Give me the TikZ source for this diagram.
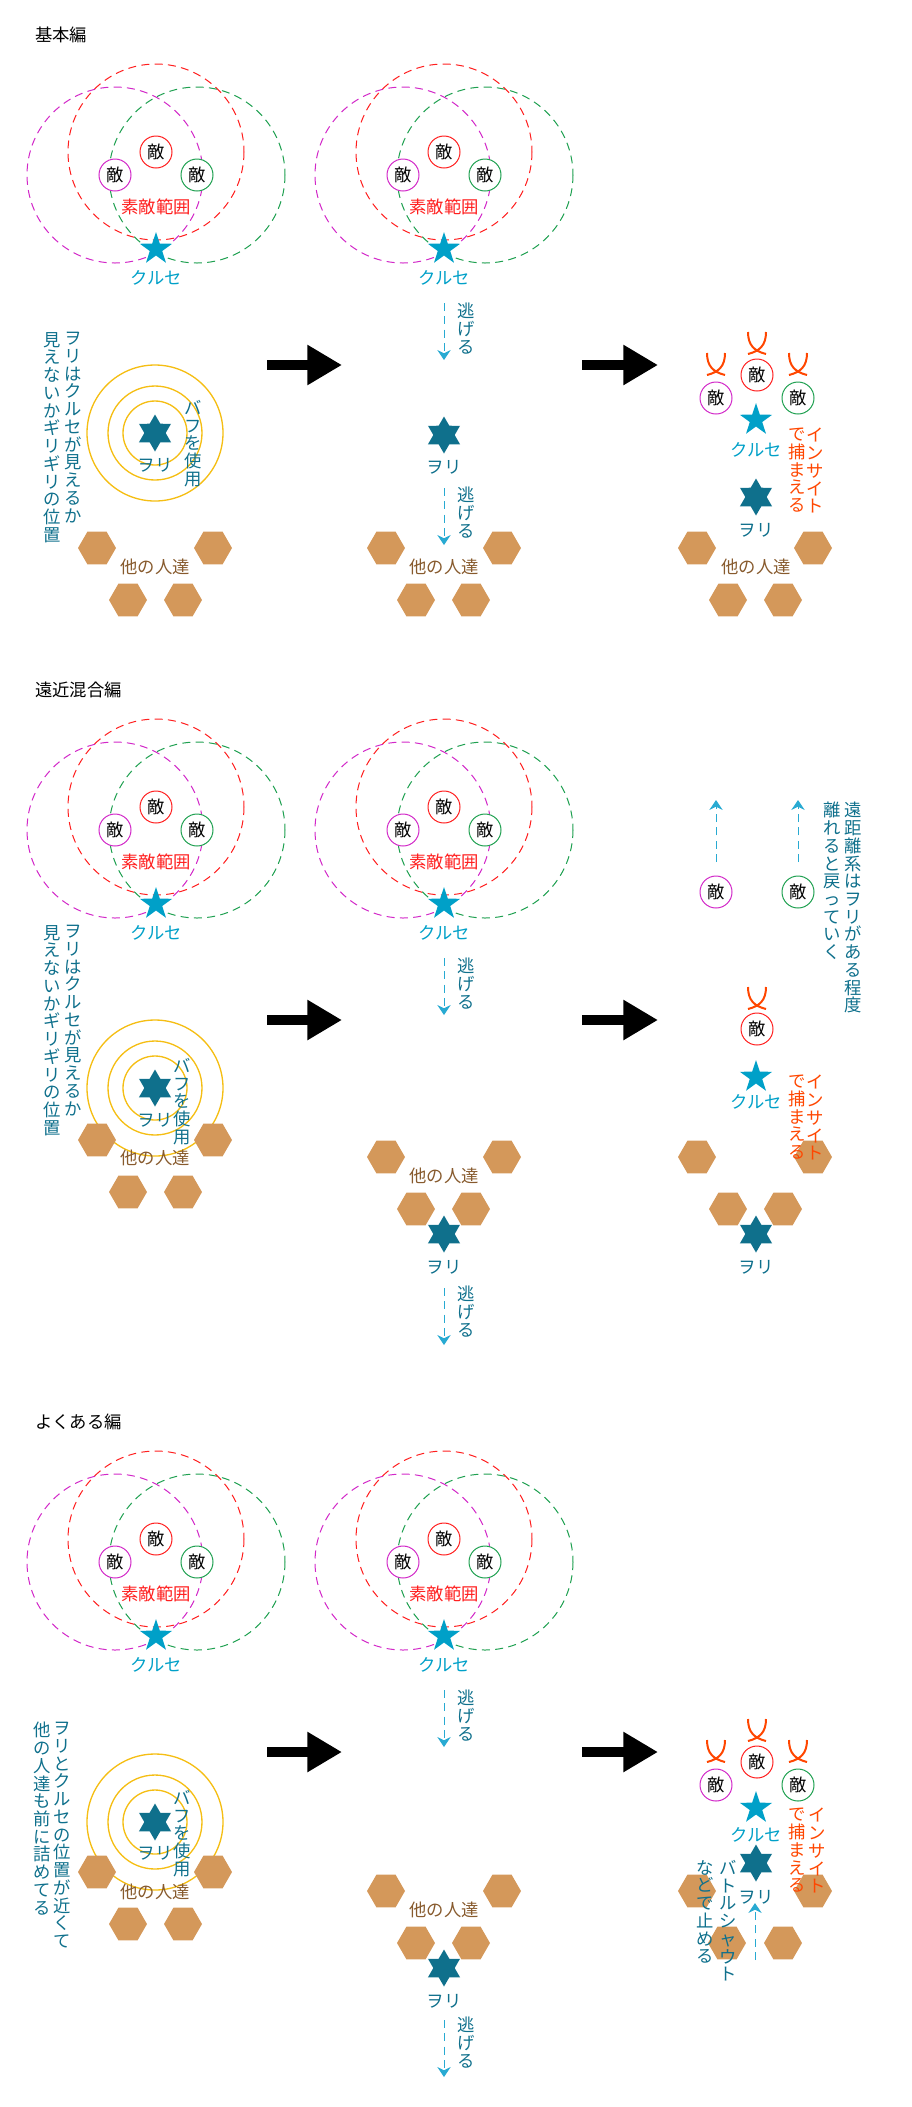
\documentclass[tikz,border=0pt]{standalone}
\usepackage{fontspec}
\setmainfont{Noto Sans CJK JP}
\usetikzlibrary{shapes.geometric,arrows.meta}

\definecolor{tekired}{RGB}{255,30,30}
\definecolor{tekimag}{RGB}{210,40,200}
\definecolor{tekigrn}{RGB}{30,160,80}
\definecolor{kurusec}{RGB}{0,160,200}
\definecolor{woric}{RGB}{15,112,140}
\definecolor{buffy}{RGB}{245,190,20}
\definecolor{hitoc}{RGB}{212,152,90}
\definecolor{hitotxt}{RGB}{135,90,45}
\definecolor{insightc}{RGB}{255,70,0}
\definecolor{nigec}{RGB}{40,170,210}

\newcommand\tatefont{\fontsize{13pt}{13.3pt}\selectfont}

\tikzset{
  teki/.style={circle, draw, line width=0.75pt, fill=white, minimum size=24pt, inner sep=0pt, font=\tatefont},
  sakuteki/.style={dash pattern=on 6pt off 4pt, line width=0.75pt},
  kuruse/.style={star, star points=5, star point ratio=2.6, fill=kurusec, minimum size=25.5pt, inner sep=0pt},
  wori/.style={star, star points=6, star point ratio=1.73, fill=woric, minimum size=27.75pt, inner sep=0pt},
  hito/.style={regular polygon, regular polygon sides=6, fill=hitoc, minimum size=28.5pt, inner sep=0pt},
  tate/.style={align=center, inner sep=0pt, anchor=north, font=\tatefont},
  lbl/.style={inner sep=0pt, font=\tatefont},
  nigeru/.style={nigec, line width=0.75pt, dash pattern=on 6pt off 4pt, -{Stealth[length=7.5pt,width=10pt,inset=2.5pt]}},
  yajirushi/.style={line width=7.5pt, -{Triangle[length=26pt,width=28.5pt]}},
  odoroki/.style={insightc, line width=1.5pt},
}

\begin{document}
\begin{tikzpicture}[x=0.75pt, y=-0.75pt]
  \useasboundingbox (0,0) rectangle (912,2107);

  % common parts of each section
  \foreach \s/\t in {0/基本編,655/遠近混合編,1387/よくある編}{
  \begin{scope}[shift={(0,\s)}]
    \node[lbl, anchor=west] (title\s) at (35,35) {\t};
    \foreach \c in {156,444}{
      \draw[sakuteki, tekimag] (\c-41,175) circle (88);
      \draw[sakuteki, tekired] (\c,152) circle (88);
      \draw[sakuteki, tekigrn] (\c+41,175) circle (88);
      \node[teki, draw=tekired] (tr\s-\c) at (\c,152) {敵};
      \node[teki, draw=tekimag] (tm\s-\c) at (\c-41,175) {敵};
      \node[teki, draw=tekigrn] (tg\s-\c) at (\c+41,175) {敵};
      \node[lbl, tekired] (sk\s-\c) at (\c,207) {素敵範囲};
      \node[kuruse] (k\s-\c) at (\c,249) {};
      \node[lbl, kurusec] (kl\s-\c) at (\c,278) {クルセ};
    }
    \coordinate (ya\s) at (267,365); \coordinate (yb\s) at (342,365);
    \coordinate (yc\s) at (582,365); \coordinate (yd\s) at (658,365);
    \draw[yajirushi] (ya\s) -- (yb\s);
    \draw[yajirushi] (yc\s) -- (yd\s);
    % first escape in the middle
    \coordinate (n\s a) at (444,303); \coordinate (n\s b) at (444,360);
    \draw[nigeru] (n\s a) -- (n\s b);
    \node[tate, woric] at (466,303) {逃\\げ\\る};
  \end{scope}}

  % 基本編
  \node[tate, woric] at (73,332) {ヲ\\リ\\は\\ク\\ル\\セ\\が\\見\\え\\る\\か};
  \node[tate, woric] at (52,332) {見\\え\\な\\い\\か\\ギ\\リ\\ギ\\リ\\の\\位\\置};
  \node[wori] (w1a) at (155,433) {};
  \foreach \r in {32,47,68} \draw[buffy, line width=1pt] (w1a) circle (\r);
  \node[lbl, woric] at (155,465) {ヲリ};
  \node[tate, woric] at (193,400) {バ\\フ\\を\\使\\用};
  \foreach \x/\y [count=\i] in {97/548,213/548,128/600,183/600} \node[hito] (h1a\i) at (\x,\y) {};
  \node[lbl, hitotxt] at (155,567) {他の人達};

  \node[wori] (w1b) at (444,435) {};
  \node[lbl, woric] (wl1b) at (444,467) {ヲリ};
  \coordinate (n1c) at (444,488); \coordinate (n1d) at (444,545);
  \draw[nigeru] (n1c) -- (n1d);
  \node[tate, woric] at (466,487) {逃\\げ\\る};
  \foreach \x/\y [count=\i] in {386/548,502/548,416/600,471/600} \node[hito] (h1b\i) at (\x,\y) {};
  \node[lbl, hitotxt] at (444,567) {他の人達};

  \foreach \x/\y in {757/343,716/364,798/364}
    \draw[odoroki] (\x-9,\y-11) .. controls (\x-9,\y+2) and (\x-3,\y+8) .. (\x+9,\y+11)
                   (\x+9,\y-11) .. controls (\x+9,\y+2) and (\x+3,\y+8) .. (\x-9,\y+11);
  \node[teki, draw=tekired] (tr1c) at (757,375) {敵};
  \node[teki, draw=tekimag] (tm1c) at (716,398) {敵};
  \node[teki, draw=tekigrn] (tg1c) at (798,398) {敵};
  \node[kuruse] (k1c) at (756,420) {};
  \node[lbl, kurusec] at (756,450) {クルセ};
  \node[tate, insightc] at (815,428) {イ\\ン\\サ\\イ\\ト};
  \node[tate, insightc] at (797,428) {で\\捕\\ま\\え\\る};
  \node[wori] (w1c) at (756,497) {};
  \node[lbl, woric] at (756,530) {ヲリ};
  \foreach \x/\y [count=\i] in {697/548,813/548,728/600,783/600} \node[hito] (h1c\i) at (\x,\y) {};
  \node[lbl, hitotxt] at (756,567) {他の人達};

  % 遠近混合編
  \begin{scope}[shift={(0,655)}]
  \node[tate, woric] at (73,270) {ヲ\\リ\\は\\ク\\ル\\セ\\が\\見\\え\\る\\か};
  \node[tate, woric] at (52,270) {見\\え\\な\\い\\か\\ギ\\リ\\ギ\\リ\\の\\位\\置};
  \node[wori] (w2a) at (155,433) {};
  \foreach \r in {32,47,68} \draw[buffy, line width=1pt] (w2a) circle (\r);
  \node[lbl, woric] at (155,465) {ヲリ};
  \node[tate, woric] at (182,403) {バ\\フ\\を\\使\\用};
  \foreach \x/\y [count=\i] in {97/485,213/485,128/537,183/537} \node[hito] (h2a\i) at (\x,\y) {};
  \node[lbl, hitotxt] at (155,503) {他の人達};

  \foreach \x/\y [count=\i] in {386/502,502/502,416/554,471/554} \node[hito] (h2b\i) at (\x,\y) {};
  \node[lbl, hitotxt] at (444,521) {他の人達};
  \node[wori] (w2b) at (444,579) {};
  \node[lbl, woric] at (444,612) {ヲリ};
  \coordinate (n2c) at (444,633); \coordinate (n2d) at (444,690);
  \draw[nigeru] (n2c) -- (n2d);
  \node[tate, woric] at (466,631) {逃\\げ\\る};

  \node[teki, draw=tekimag] (tm2c) at (716,237) {敵};
  \node[teki, draw=tekigrn] (tg2c) at (798,237) {敵};
  \coordinate (m2a) at (716,207); \coordinate (m2b) at (716,145);
  \coordinate (g2a) at (798,207); \coordinate (g2b) at (798,145);
  \draw[nigeru] (m2a) -- (m2b);
  \draw[nigeru] (g2a) -- (g2b);
  \node[tate, woric] at (853,147) {遠\\距\\離\\系\\は\\ヲ\\リ\\が\\あ\\る\\程\\度};
  \node[tate, woric] at (832,147) {離\\れ\\る\\と\\戻\\っ\\て\\い\\く};
  \draw[odoroki] (748,332) .. controls (748,345) and (754,351) .. (766,354)
                 (766,332) .. controls (766,345) and (760,351) .. (748,354);
  \node[teki, draw=tekired] (tr2c) at (757,374) {敵};
  \node[kuruse] (k2c) at (756,422) {};
  \node[lbl, kurusec] at (756,447) {クルセ};
  \foreach \x/\y [count=\i] in {697/502,813/502,728/554,783/554} \node[hito] (h2c\i) at (\x,\y) {};
  \node[tate, insightc] at (815,420) {イ\\ン\\サ\\イ\\ト};
  \node[tate, insightc] at (797,420) {で\\捕\\ま\\え\\る};
  \node[wori] (w2c) at (756,579) {};
  \node[lbl, woric] at (756,612) {ヲリ};
  \end{scope}

  % よくある編
  \begin{scope}[shift={(0,1387)}]
  \node[tate, woric] at (62,335) {ヲ\\リ\\と\\ク\\ル\\セ\\の\\位\\置\\が\\近\\く\\て};
  \node[tate, woric] at (42,335) {他\\の\\人\\達\\も\\前\\に\\詰\\め\\て\\る};
  \node[wori] (w3a) at (155,435) {};
  \foreach \r in {32,47,68} \draw[buffy, line width=1pt] (w3a) circle (\r);
  \node[lbl, woric] at (155,466) {ヲリ};
  \node[tate, woric] at (182,403) {バ\\フ\\を\\使\\用};
  \foreach \x/\y [count=\i] in {97/485,213/485,128/537,183/537} \node[hito] (h3a\i) at (\x,\y) {};
  \node[lbl, hitotxt] at (155,505) {他の人達};

  \foreach \x/\y [count=\i] in {386/504,502/504,416/556,471/556} \node[hito] (h3b\i) at (\x,\y) {};
  \node[lbl, hitotxt] at (444,523) {他の人達};
  \node[wori] (w3b) at (444,581) {};
  \node[lbl, woric] at (444,614) {ヲリ};
  \coordinate (n3c) at (444,633); \coordinate (n3d) at (444,690);
  \draw[nigeru] (n3c) -- (n3d);
  \node[tate, woric] at (466,630) {逃\\げ\\る};

  \foreach \x/\y in {757/343,716/364,798/364}
    \draw[odoroki] (\x-9,\y-11) .. controls (\x-9,\y+2) and (\x-3,\y+8) .. (\x+9,\y+11)
                   (\x+9,\y-11) .. controls (\x+9,\y+2) and (\x+3,\y+8) .. (\x-9,\y+11);
  \node[teki, draw=tekired] (tr3c) at (757,375) {敵};
  \node[teki, draw=tekimag] (tm3c) at (716,398) {敵};
  \node[teki, draw=tekigrn] (tg3c) at (798,398) {敵};
  \foreach \x/\y [count=\i] in {697/504,813/504,727/556,783/556} \node[hito] (h3c\i) at (\x,\y) {};
  \node[kuruse] (k3c) at (756,421) {};
  \node[lbl, kurusec] at (756,448) {クルセ};
  \node[tate, insightc] at (817,421) {イ\\ン\\サ\\イ\\ト};
  \node[tate, insightc] at (797,421) {で\\捕\\ま\\え\\る};
  \node[wori] (w3c) at (756,476) {};
  \node[lbl, woric] at (756,510) {ヲリ};
  \node[tate, woric] at (728,473) {バ\\ト\\ル\\シ\\ャ\\ウ\\ト};
  \node[tate, woric] at (705,473) {な\\ど\\で\\止\\め\\る};
  \coordinate (b3a) at (755,573); \coordinate (b3b) at (755,516);
  \draw[nigeru] (b3a) -- (b3b);
  \end{scope}
\end{tikzpicture}
\end{document}
